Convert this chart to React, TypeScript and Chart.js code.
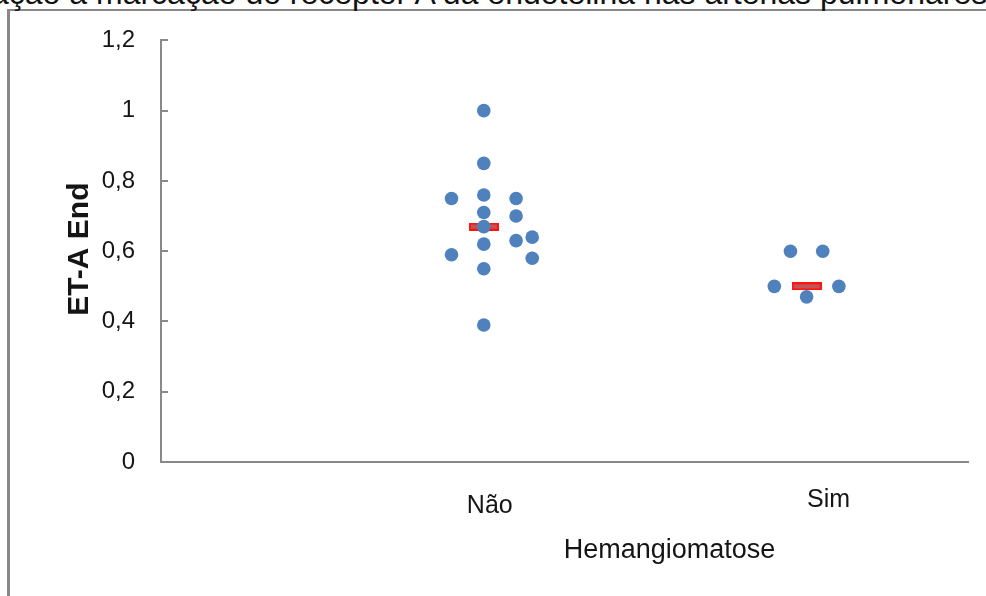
import React, { useEffect, useRef } from 'react';
import { Chart, registerables } from 'chart.js';

Chart.register(...registerables);

// ---- data ----
const categories = ['Não', 'Sim'];
const categoryX = [1, 2];

const naoX = [1, 1, 0.9, 1, 1.1, 1, 1.1, 1, 1.1, 1.15, 1, 0.9, 1.15, 1, 1];
const naoY = [1.0, 0.85, 0.75, 0.76, 0.75, 0.71, 0.7, 0.67, 0.63, 0.64, 0.62, 0.59, 0.58, 0.55, 0.39];

const simX = [1.95, 2.05, 1.9, 2.1, 2.0];
const simY = [0.6, 0.6, 0.5, 0.5, 0.47];

const medianY = [0.67, 0.5];

const yTickValues = [0, 0.2, 0.4, 0.6, 0.8, 1.0, 1.2];
const yTickLabels = ['0', '0,2', '0,4', '0,6', '0,8', '1', '1,2'];

const xTitle = 'Hemangiomatose';
const yTitle = 'ET-A End';
const headerText = 'Relação a marcação do receptor A da endotelina nas artérias pulmonares';

const FONT = '"Liberation Sans", Arial, sans-serif';
const AXIS_GREY = '#898989';
const TEXT = '#151515';

function makeMedianMarker(): HTMLCanvasElement {
  const c = document.createElement('canvas');
  c.width = 30;
  c.height = 8;
  const g = c.getContext('2d')!;
  g.fillStyle = '#ff1414';
  g.fillRect(0, 0, 30, 8);
  g.fillStyle = '#c25454';
  g.fillRect(2, 2, 26, 4);
  return c;
}

const decorPlugin = {
  id: 'decor',
  afterDraw(chart: any) {
    const { ctx, chartArea } = chart;
    const x = chart.scales.x;
    const y = chart.scales.y;
    ctx.save();
    // inner tick marks on y axis
    ctx.strokeStyle = AXIS_GREY;
    ctx.lineWidth = 2;
    yTickValues.forEach((v) => {
      const py = Math.round(y.getPixelForValue(v));
      ctx.beginPath();
      ctx.moveTo(chartArea.left, py);
      ctx.lineTo(chartArea.left + 7, py);
      ctx.stroke();
    });
    // category labels
    ctx.fillStyle = TEXT;
    ctx.textAlign = 'center';
    ctx.textBaseline = 'alphabetic';
    ctx.font = `25px ${FONT}`;
    const offs = [
      [6, 51],
      [22, 45],
    ];
    categories.forEach((c, i) => {
      ctx.fillText(c, x.getPixelForValue(categoryX[i]) + offs[i][0], chartArea.bottom + offs[i][1]);
    });
    // x title
    ctx.font = `27px ${FONT}`;
    ctx.fillText(xTitle, (chartArea.left + chartArea.right) / 2 + 105, chartArea.bottom + 96);
    // y title
    ctx.translate(88, (chartArea.top + chartArea.bottom) / 2 - 2);
    ctx.rotate(-Math.PI / 2);
    ctx.font = `bold 30px ${FONT}`;
    ctx.fillText(yTitle, 0, 0);
    ctx.restore();
  },
};

export default function App() {
  const ref = useRef<HTMLCanvasElement | null>(null);

  useEffect(() => {
    if (!ref.current) return;
    const marker = makeMedianMarker();
    const chart = new Chart(ref.current, {
      type: 'scatter',
      data: {
        datasets: [
          {
            label: categories[0],
            data: naoX.map((v, i) => ({ x: v, y: naoY[i] })),
            backgroundColor: '#4f81bd',
            borderWidth: 0,
            pointRadius: 6.8,
          },
          {
            label: categories[1],
            data: simX.map((v, i) => ({ x: v, y: simY[i] })),
            backgroundColor: '#4f81bd',
            borderWidth: 0,
            pointRadius: 6.8,
          },
          {
            label: 'Mediana',
            data: categoryX.map((v, i) => ({ x: v, y: medianY[i] })),
            pointStyle: marker as any,
            pointRadius: 6,
          },
        ],
      },
      options: {
        animation: false,
        responsive: true,
        maintainAspectRatio: false,
        layout: { padding: { left: 0, top: 39, right: 18, bottom: 134 } },
        plugins: {
          legend: { display: false },
          tooltip: { enabled: false },
        },
        scales: {
          x: {
            type: 'linear',
            min: 0,
            max: 2.5,
            ticks: { display: false },
            grid: { display: true, drawOnChartArea: false, drawTicks: false },
            border: { display: true, color: AXIS_GREY, width: 2 },
            afterFit: (s: any) => {
              s.height = 0;
            },
          },
          y: {
            type: 'linear',
            min: 0,
            max: 1.2,
            afterBuildTicks: (s: any) => {
              s.ticks = yTickValues.map((v) => ({ value: v }));
            },
            ticks: {
              padding: 26,
              color: TEXT,
              font: { family: FONT, size: 24 },
              callback: (v: any) => {
                const i = yTickValues.findIndex((t) => Math.abs(t - Number(v)) < 1e-6);
                return i >= 0 ? yTickLabels[i] : '';
              },
            },
            grid: { display: true, drawOnChartArea: false, drawTicks: false },
            border: { display: true, color: AXIS_GREY, width: 2 },
            afterFit: (s: any) => {
              s.width = 161;
            },
          },
        },
      },
      plugins: [decorPlugin],
    });
    return () => chart.destroy();
  }, []);

  return (
    <div style={{ position: 'fixed', left: 0, top: 0, width: 986, height: 596, overflow: 'hidden', background: '#fff' }}>
      <div
        style={{
          position: 'absolute',
          left: 7,
          top: 9,
          width: 1200,
          height: 1200,
          borderLeft: `3px solid ${AXIS_GREY}`,
          borderTop: `2px solid ${AXIS_GREY}`,
        }}
      />
      <div
        style={{
          position: 'absolute',
          left: -57,
          top: -23,
          whiteSpace: 'nowrap',
          fontFamily: FONT,
          fontSize: 32,
          lineHeight: '32px',
          color: '#111',
        }}
      >
        {headerText}
      </div>
      <canvas ref={ref} style={{ position: 'absolute', left: 0, top: 0, width: 986, height: 596 }} />
    </div>
  );
}
